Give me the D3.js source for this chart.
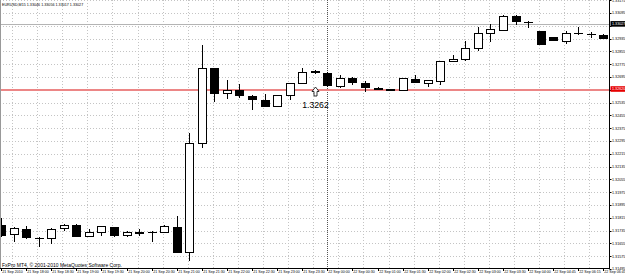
<!DOCTYPE html>
<html>
<head>
<meta charset="utf-8">
<script src="https://cdn.jsdelivr.net/npm/d3@7"></script>
<style>
  html, body { margin: 0; padding: 0; background: #fff; }
  svg { display: block; }
</style>
</head>
<body>
<div id="chart"></div>
<script>
// EURUSD M15 candles
const opens = [1.31770, 1.31714, 1.31745, 1.31689, 1.31689, 1.31751, 1.31770, 1.31701, 1.31726, 1.31758,
  1.31708, 1.31726, 1.31726, 1.31726, 1.31758, 1.31601, 1.32283, 1.32751, 1.32595, 1.32614,
  1.32576, 1.32551, 1.32514, 1.32583, 1.32658, 1.32733, 1.32720, 1.32639, 1.32689, 1.32658,
  1.32626, 1.32617, 1.32614, 1.32683, 1.32658, 1.32670, 1.32795, 1.32808, 1.32876, 1.32970,
  1.32989, 1.33076, 1.33039, 1.32983, 1.32945, 1.32920, 1.32970, 1.32964, 1.32958];
const highs = [1.31814, 1.31758, 1.31764, 1.31692, 1.31751, 1.31776, 1.31776, 1.31745, 1.31764, 1.31758,
  1.31733, 1.31745, 1.31733, 1.31770, 1.31826, 1.32345, 1.32895, 1.32751, 1.32676, 1.32651,
  1.32583, 1.32589, 1.32583, 1.32658, 1.32751, 1.32739, 1.32726, 1.32708, 1.32695, 1.32670,
  1.32633, 1.32620, 1.32689, 1.32708, 1.32676, 1.32795, 1.32833, 1.32920, 1.33008, 1.33026,
  1.33083, 1.33083, 1.33045, 1.32983, 1.32945, 1.32983, 1.33008, 1.32976, 1.32964];
const lows = [1.31701, 1.31670, 1.31689, 1.31639, 1.31658, 1.31739, 1.31701, 1.31701, 1.31708, 1.31701,
  1.31701, 1.31708, 1.31670, 1.31726, 1.31601, 1.31551, 1.32258, 1.32545, 1.32564, 1.32570,
  1.32495, 1.32514, 1.32514, 1.32558, 1.32658, 1.32720, 1.32639, 1.32633, 1.32651, 1.32608,
  1.32620, 1.32611, 1.32614, 1.32664, 1.32639, 1.32651, 1.32795, 1.32801, 1.32864, 1.32920,
  1.32989, 1.33026, 1.33008, 1.32901, 1.32929, 1.32908, 1.32964, 1.32945, 1.32939];
const closes = [1.31708, 1.31751, 1.31695, 1.31686, 1.31745, 1.31770, 1.31701, 1.31726, 1.31764, 1.31708,
  1.31726, 1.31723, 1.31727, 1.31764, 1.31601, 1.32283, 1.32751, 1.32595, 1.32614, 1.32583,
  1.32558, 1.32514, 1.32583, 1.32658, 1.32726, 1.32726, 1.32645, 1.32689, 1.32664, 1.32633,
  1.32623, 1.32614, 1.32689, 1.32664, 1.32676, 1.32795, 1.32808, 1.32876, 1.32970, 1.32995,
  1.33076, 1.33045, 1.33037, 1.32901, 1.32929, 1.32970, 1.32968, 1.32963, 1.32939];

// time axis labels (bar index -> text)
const timeLabelIdx = [0, 2, 4, 6, 8, 10, 12, 14, 16, 18, 20, 22, 24, 26, 28, 30, 32, 34, 36, 38, 40, 42, 44, 46, 48];
const timeLabels = ["21 Sep 2010", "21 Sep 18:00", "21 Sep 18:30", "21 Sep 19:00", "21 Sep 19:30", "21 Sep 20:00",
  "21 Sep 20:30", "21 Sep 21:00", "21 Sep 21:30", "21 Sep 22:00", "21 Sep 22:30", "21 Sep 23:00", "21 Sep 23:30",
  "22 Sep 00:00", "22 Sep 00:30", "22 Sep 01:00", "22 Sep 01:30", "22 Sep 02:00", "22 Sep 02:30", "22 Sep 03:00",
  "22 Sep 03:30", "22 Sep 04:00", "22 Sep 04:45", "22 Sep 06:15", "22 Sep 06:45"];
const daySeparatorIdx = [26];

// price axis labels
const priceTicks = [1.31495, 1.31575, 1.31655, 1.31735, 1.31815, 1.31895, 1.31975, 1.32055, 1.32135, 1.32215,
  1.32295, 1.32375, 1.32455, 1.32535, 1.32615, 1.32695, 1.32775, 1.32855, 1.32935, 1.33015, 1.33095, 1.33175];

const hlinePrice = 1.3262;
const hlineText = "1.3262";
const arrowIdx = 25;
const bidPrice = 1.33027;
const title = "EURUSD,M15  1.33046 1.33056 1.33017 1.33027";
const copyright = "FxPro MT4, \u00a9 2001-2010 MetaQuotes Software Corp.";

document.addEventListener('DOMContentLoaded', function() {
    drawChart('chart');
});

function drawChart(containerId) {
    const W = 625, H = 274;
    const plotRight = 609.5, plotBottom = 268;
    const font = "'Liberation Sans', Arial, sans-serif";

    const svg = d3.select('#' + containerId).append('svg')
        .attr('width', W).attr('height', H);

    const x = d3.scaleLinear().domain([0, 48]).range([1, 603.4]);
    const y = d3.scaleLinear().domain([1.31495, 1.33175]).range([269, 0.2]);
    const px = i => Math.round(x(i)) + 0.5;

    const plot = svg.append('g');
    plot.append('clipPath').attr('id', 'clip')
        .append('rect').attr('x', 0).attr('y', 0).attr('width', plotRight).attr('height', plotBottom);
    const inner = plot.append('g').attr('clip-path', 'url(#clip)');

    // grid
    const gridColor = '#c4c4c4';
    inner.selectAll('.hgrid').data(priceTicks).enter().append('line')
        .attr('x1', 0).attr('x2', plotRight)
        .attr('y1', d => Math.round(y(d)) + 0.5).attr('y2', d => Math.round(y(d)) + 0.5)
        .attr('stroke', gridColor).attr('stroke-dasharray', '1,2');
    inner.selectAll('.vgrid').data(timeLabelIdx.slice(0, -1)).enter().append('line')
        .attr('x1', d => Math.round(x(d + 1) - 1.5) + 0.5).attr('x2', d => Math.round(x(d + 1) - 1.5) + 0.5)
        .attr('y1', 0).attr('y2', plotBottom)
        .attr('stroke', gridColor).attr('stroke-dasharray', '1,2');
    inner.selectAll('.daysep').data(daySeparatorIdx).enter().append('line')
        .attr('x1', d => px(d)).attr('x2', d => px(d))
        .attr('y1', 0).attr('y2', plotBottom)
        .attr('stroke', '#555').attr('stroke-dasharray', '1,1');

    // bid line and red horizontal line
    inner.append('line')
        .attr('x1', 0).attr('x2', plotRight)
        .attr('y1', Math.round(y(bidPrice)) + 0.5).attr('y2', Math.round(y(bidPrice)) + 0.5)
        .attr('stroke', '#b4b4b4');
    inner.append('line')
        .attr('x1', 0).attr('x2', plotRight)
        .attr('y1', Math.round(y(hlinePrice)) + 1).attr('y2', Math.round(y(hlinePrice)) + 1)
        .attr('stroke', '#ec8686').attr('stroke-width', 2);

    // candles
    const bars = d3.range(opens.length).map(i => ({ i, o: opens[i], h: highs[i], l: lows[i], c: closes[i] }));
    const g = inner.selectAll('.bar').data(bars).enter().append('g');
    g.append('line')
        .attr('x1', d => px(d.i)).attr('x2', d => px(d.i))
        .attr('y1', d => Math.round(y(d.h))).attr('y2', d => Math.round(y(d.l)) + 1)
        .attr('stroke', '#000');
    g.each(function(d) {
        const sel = d3.select(this);
        const top = Math.round(y(Math.max(d.o, d.c)));
        const bot = Math.round(y(Math.min(d.o, d.c)));
        if (bot - top < 1) {
            sel.append('line')
                .attr('x1', px(d.i) - 4.5).attr('x2', px(d.i) + 4.5)
                .attr('y1', top + 0.5).attr('y2', top + 0.5)
                .attr('stroke', '#000');
        } else {
            sel.append('rect')
                .attr('x', px(d.i) - 4).attr('width', 8)
                .attr('y', top + 0.5).attr('height', bot - top)
                .attr('fill', d.c >= d.o ? '#fff' : '#000')
                .attr('stroke', '#000');
        }
    });

    // price annotation with arrow
    const ax = px(arrowIdx), ay = y(hlinePrice) - 2;
    inner.append('path')
        .attr('d', `M${ax},${ay} L${ax + 3.5},${ay + 4.5} L${ax + 1.5},${ay + 4.5} L${ax + 1.5},${ay + 9} L${ax - 1.5},${ay + 9} L${ax - 1.5},${ay + 4.5} L${ax - 3.5},${ay + 4.5} Z`)
        .attr('fill', '#fff').attr('stroke', '#000').attr('stroke-width', 0.8);
    inner.append('text')
        .attr('x', ax).attr('y', y(hlinePrice) + 19)
        .attr('text-anchor', 'middle')
        .style('font-family', font).style('font-size', '8.7px').attr('fill', '#000')
        .text(hlineText);

    // texts
    svg.append('text').attr('x', 2).attr('y', 6)
        .style('font-family', font).style('font-size', '3.7px').text(title);
    svg.append('text').attr('x', 2).attr('y', 266.5)
        .style('font-family', font).style('font-size', '5px').text(copyright);

    // axes
    svg.append('line').attr('x1', 0).attr('x2', plotRight)
        .attr('y1', plotBottom + 0.5).attr('y2', plotBottom + 0.5).attr('stroke', '#000');
    svg.append('line').attr('x1', plotRight).attr('x2', plotRight)
        .attr('y1', 0).attr('y2', plotBottom + 1).attr('stroke', '#000');
    svg.append('line').attr('x1', 0.5).attr('x2', 0.5)
        .attr('y1', 0).attr('y2', plotBottom).attr('stroke', '#999');

    // price labels: boxes for the horizontal lines cover the tick labels under them
    const boxes = [{ p: hlinePrice, fill: '#e60000' }, { p: bidPrice, fill: '#000' }];
    const freeTicks = priceTicks.filter(t => boxes.every(b => Math.abs(y(t) - y(b.p)) > 5.6));

    svg.selectAll('.ptick').data(priceTicks).enter().append('line')
        .attr('x1', plotRight).attr('x2', plotRight + 2)
        .attr('y1', d => Math.round(y(d)) + 0.5).attr('y2', d => Math.round(y(d)) + 0.5)
        .attr('stroke', '#000');
    svg.selectAll('.plabel').data(freeTicks).enter().append('text')
        .attr('x', plotRight + 2.5).attr('y', d => y(d) + 1.3)
        .style('font-family', font).style('font-size', '3.7px')
        .text(d => d3.format('.5f')(d));

    boxes.forEach(b => {
        svg.append('rect').attr('x', plotRight + 1).attr('y', y(b.p) - 2.8)
            .attr('width', 16).attr('height', 5.6).attr('fill', b.fill);
        svg.append('text').attr('x', plotRight + 2.5).attr('y', y(b.p) + 1.3)
            .style('font-family', font).style('font-size', '3.7px').attr('fill', '#fff')
            .text(d3.format('.5f')(b.p));
    });

    svg.selectAll('.ttick').data(timeLabelIdx).enter().append('line')
        .attr('x1', d => px(d)).attr('x2', d => px(d))
        .attr('y1', plotBottom).attr('y2', plotBottom + 3)
        .attr('stroke', '#000');
    svg.selectAll('.tlabel').data(timeLabelIdx).enter().append('text')
        .attr('x', d => px(d) + 0.8).attr('y', 273)
        .style('font-family', font).style('font-size', '3.6px')
        .text((d, k) => timeLabels[k]);
}
</script>
</body>
</html>
